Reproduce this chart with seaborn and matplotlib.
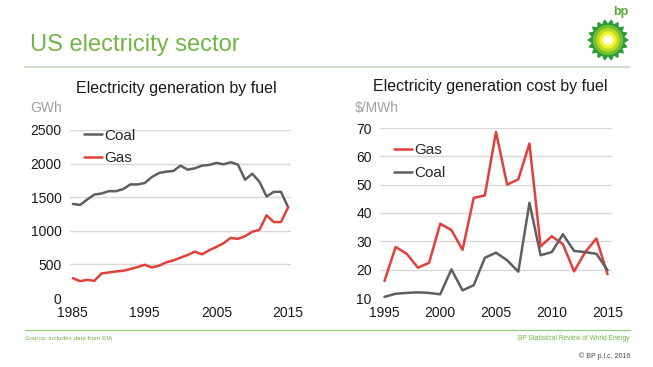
import numpy as np
import pandas as pd
import matplotlib
matplotlib.use("Agg")
import matplotlib.pyplot as plt
import seaborn as sns
from matplotlib.patches import Polygon, Circle

# Dados
gen_years = list(range(1985, 2016))
coal_gen = [1400, 1385, 1465, 1540, 1555, 1590, 1590, 1620, 1690, 1690, 1710,
            1800, 1860, 1880, 1890, 1970, 1910, 1930, 1970, 1980, 2010, 1990,
            2020, 1985, 1760, 1850, 1730, 1510, 1580, 1580, 1350]
gas_gen = [295, 250, 270, 255, 365, 380, 395, 405, 430, 460, 495,
           455, 480, 530, 560, 600, 640, 690, 650, 710, 760, 815,
           895, 880, 920, 985, 1015, 1230, 1130, 1130, 1350]

cost_years = list(range(1995, 2016))
gas_cost = [16.0, 28.0, 25.6, 20.7, 22.4, 36.2, 34.0, 27.0, 45.3, 46.2, 68.6,
            50.0, 51.9, 64.5, 28.2, 31.8, 29.0, 19.4, 26.2, 31.0, 18.4]
coal_cost = [10.4, 11.5, 11.8, 12.0, 11.8, 11.3, 20.1, 12.7, 14.5, 24.2, 26.0,
             23.3, 19.3, 43.6, 25.1, 26.2, 32.5, 26.6, 26.2, 25.6, 19.8]

gen_df = pd.DataFrame({"year": gen_years * 2,
                       "value": coal_gen + gas_gen,
                       "fuel": ["Coal"] * len(gen_years) + ["Gas"] * len(gen_years)})
cost_df = pd.DataFrame({"year": cost_years * 2,
                        "value": gas_cost + coal_cost,
                        "fuel": ["Gas"] * len(cost_years) + ["Coal"] * len(cost_years)})

GREEN = "#72b545"
palette = {"Coal": "#5f5f5f", "Gas": "#e2403a"}

sns.set_style("white")
plt.rcParams["font.family"] = ["Liberation Sans", "DejaVu Sans"]

W, H = 653, 367
fig = plt.figure(figsize=(W / 100, H / 100), dpi=100)


def box(x0, y0, x1, y1):
    # caixa em pixels -> fração da figura
    return [x0 / W, 1 - y1 / H, (x1 - x0) / W, (y1 - y0) / H]


def style_axis(ax):
    for s in ax.spines.values():
        s.set_visible(False)
    ax.grid(axis="y", color="#d8d8d8", linewidth=1)
    ax.set_axisbelow(True)
    ax.tick_params(axis="both", length=0, labelsize=10, colors="#1a1a1a", pad=6)
    ax.set_xlabel("")
    ax.set_ylabel("")


# painel esquerdo
ax1 = fig.add_axes(box(70, 130, 291, 298))
sns.lineplot(data=gen_df, x="year", y="value", hue="fuel", palette=palette,
             linewidth=1.8, ax=ax1)
ax1.set_xlim(1984.6, 2015.4)
ax1.set_ylim(0, 2500)
ax1.set_xticks([1985, 1995, 2005, 2015])
ax1.set_yticks(range(0, 2501, 500))
style_axis(ax1)
ax1.legend(loc="upper left", bbox_to_anchor=(0.0, 1.09), frameon=False,
           handlelength=1.2, handletextpad=0.15, labelspacing=0.55, fontsize=11)
fig.text(176 / W, 1 - 88 / H, "Electricity generation by fuel", ha="center",
         va="center", fontsize=11.5, color="#1a1a1a")
fig.text(30 / W, 1 - 108 / H, "GWh", ha="left", va="center", fontsize=10,
         color="#a0a0a0")

# painel direito
ax2 = fig.add_axes(box(380, 128, 612, 298))
sns.lineplot(data=cost_df, x="year", y="value", hue="fuel", palette=palette,
             linewidth=1.8, ax=ax2)
ax2.set_xlim(1994.6, 2015.4)
ax2.set_ylim(10, 70)
ax2.set_xticks([1995, 2000, 2005, 2010, 2015])
ax2.set_yticks(range(10, 71, 10))
style_axis(ax2)
ax2.legend(loc="upper left", bbox_to_anchor=(0.0, 0.99), frameon=False,
           handlelength=1.2, handletextpad=0.15, labelspacing=0.55, fontsize=11)
fig.text(490 / W, 1 - 87 / H, "Electricity generation cost by fuel", ha="center",
         va="center", fontsize=11.5, color="#1a1a1a")
fig.text(355 / W, 1 - 108 / H, "$/MWh", ha="left", va="center", fontsize=10,
         color="#a0a0a0")

# cabeçalho e rodapé
fig.text(30 / W, 1 - 45 / H, "US electricity sector", ha="left", va="center",
         fontsize=17, color=GREEN)
fig.add_artist(plt.Line2D([25 / W, 630 / W], [1 - 67 / H, 1 - 67 / H],
                          color="#c9d9bd", linewidth=1.2))
fig.add_artist(plt.Line2D([25 / W, 630 / W], [1 - 330 / H, 1 - 330 / H],
                          color="#9fd08a", linewidth=1))
fig.text(25 / W, 1 - 338 / H, "Source: includes data from EIA", ha="left",
         va="center", fontsize=4.6, color=GREEN)
fig.text(630 / W, 1 - 338 / H, "BP Statistical Review of World Energy",
         ha="right", va="center", fontsize=4.8, color=GREEN)
fig.text(630 / W, 1 - 356 / H, "© BP p.l.c. 2016", ha="right", va="center",
         fontsize=5, color="#444444")

# logo (helios)
lax = fig.add_axes(box(586, 18, 630, 62))
lax.set_xlim(-1.1, 1.1)
lax.set_ylim(-1.1, 1.1)
lax.set_aspect("equal")
lax.axis("off")
n = 18
ang = np.linspace(0, 2 * np.pi, 2 * n, endpoint=False)
rad = np.where(np.arange(2 * n) % 2 == 0, 1.0, 0.78)
lax.add_patch(Polygon(np.c_[rad * np.cos(ang), rad * np.sin(ang)],
                      closed=True, color="#2f9a3a"))
for r, c in [(0.72, "#6fbf2c"), (0.56, "#b8d820"), (0.4, "#f1ee3a"),
             (0.24, "#fffbb0"), (0.12, "#ffffff")]:
    lax.add_patch(Circle((0, 0), r, color=c))
fig.text(621 / W, 1 - 12 / H, "bp", ha="center", va="center", fontsize=9,
         color="#5aa83a", fontweight="bold")

fig.savefig("out.png", dpi=100)
